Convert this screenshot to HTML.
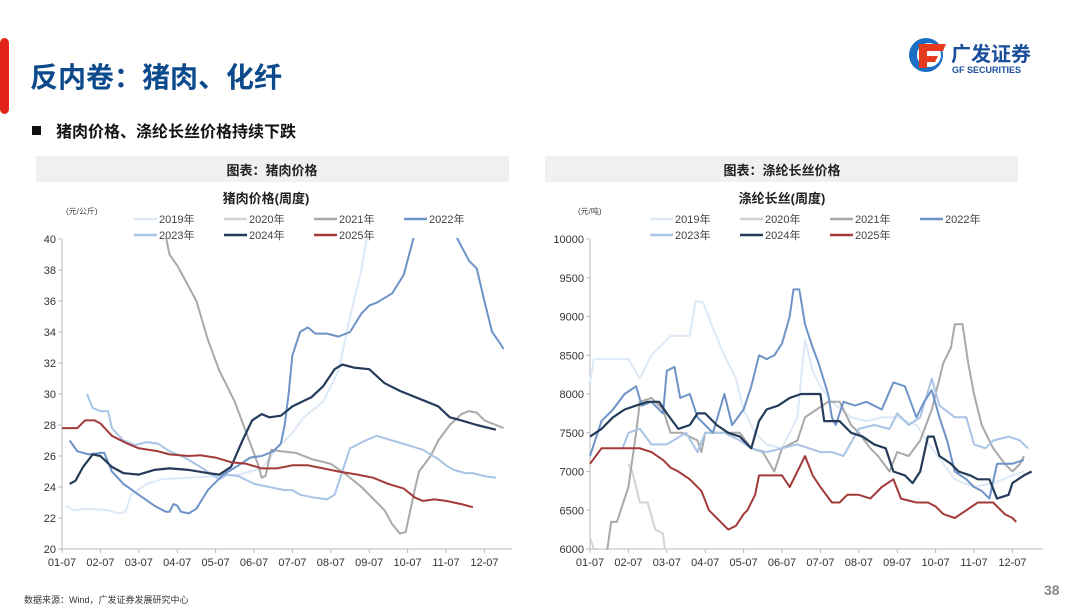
<!DOCTYPE html>
<html><head><meta charset="utf-8">
<style>
body{margin:0;width:1080px;height:608px;background:#fff;overflow:hidden;font-family:"Liberation Sans","Noto Sans CJK SC",sans-serif;}
svg text{font-family:"Liberation Sans","Noto Sans CJK SC",sans-serif;}
</style></head>
<body>
<svg id="s" width="1080" height="608" xmlns="http://www.w3.org/2000/svg">
<rect x="0" y="38" width="9" height="76" rx="5" fill="#e2231a"/>
<text x="30" y="87" font-size="28" font-weight="bold" fill="#0c4a8c">反内卷：猪肉、化纤</text>
<rect x="32" y="126" width="9" height="9" fill="#111"/>
<text x="56" y="137" font-size="16" font-weight="bold" fill="#111">猪肉价格、涤纶长丝价格持续下跌</text>
<!-- logo -->
<circle cx="926" cy="55" r="17" fill="#1b6fc4"/>
<circle cx="929" cy="55" r="12" fill="#fff"/>
<path d="M918 44 h28 l-3 7 h-20 z M922 56 h16 l-3 6 h-14 z M919 44 h8 v24 h-8 z" fill="#e63a1e"/>
<text x="951" y="61" font-size="20" font-weight="bold" fill="#1b4f9c">广发证券</text>
<text x="952" y="73" font-size="9" font-weight="bold" fill="#1b4f9c">GF SECURITIES</text>
<!-- panels -->
<rect x="36" y="156" width="473" height="26" fill="#f0f0f0"/>
<text x="272" y="175" font-size="13" font-weight="bold" text-anchor="middle" fill="#222">图表：猪肉价格</text>
<rect x="545" y="156" width="473" height="26" fill="#f0f0f0"/>
<text x="782" y="175" font-size="13" font-weight="bold" text-anchor="middle" fill="#222">图表：涤纶长丝价格</text>
<text x="266" y="203" font-size="13" font-weight="bold" text-anchor="middle" fill="#222">猪肉价格(周度)</text>
<text x="782" y="203" font-size="13" font-weight="bold" text-anchor="middle" fill="#222">涤纶长丝(周度)</text>
<text x="66" y="214" font-size="8" fill="#444">(元/公斤)</text>
<text x="578" y="214" font-size="8" fill="#444">(元/吨)</text>
<g id="g"></g>
<text x="24" y="603" font-size="9" fill="#333">数据来源：Wind，广发证券发展研究中心</text>
<text x="1044" y="595" font-size="14" font-weight="bold" fill="#888">38</text>
</svg>
<script>
var g=document.getElementById('g'),h='';
var C={y19:'#dde9f7',y20:'#d3d3d3',y21:'#a9a9a9',y22:'#6d93c8',y23:'#a9c4e6',y24:'#253b5a',y25:'#a33a3a'};
function legend(x0){var names=['2019年','2020年','2021年','2022年','2023年','2024年','2025年'];var cs=[C.y19,C.y20,C.y21,C.y22,C.y23,C.y24,C.y25];
for(var i=0;i<7;i++){var x=x0+(i%4)*90,y=i<4?223:239;h+='<line x1="'+x+'" y1="'+(y-4)+'" x2="'+(x+23)+'" y2="'+(y-4)+'" stroke="'+cs[i]+'" stroke-width="2.5"/>';h+='<text x="'+(x+25)+'" y="'+y+'" font-size="11" fill="#444">'+names[i]+'</text>';}}
function axis(x0,xe,vals,vmin,vmax){var top=239,bot=549;
h+='<line x1="'+x0+'" y1="'+top+'" x2="'+x0+'" y2="'+bot+'" stroke="#bbb"/>';
h+='<line x1="'+x0+'" y1="'+bot+'" x2="'+xe+'" y2="'+bot+'" stroke="#bbb"/>';
vals.forEach(function(v){var y=bot-(v-vmin)/(vmax-vmin)*(bot-top);h+='<line x1="'+(x0-4)+'" y1="'+y+'" x2="'+x0+'" y2="'+y+'" stroke="#bbb"/><text x="'+(x0-6)+'" y="'+(y+4)+'" font-size="11" text-anchor="end" fill="#333">'+v+'</text>';});
for(var m=0;m<12;m++){var x=x0+m*38.4;h+='<line x1="'+x+'" y1="'+bot+'" x2="'+x+'" y2="'+(bot+4)+'" stroke="#bbb"/><text x="'+x+'" y="'+(bot+17)+'" font-size="11" text-anchor="middle" fill="#333">'+(m<9?'0':'')+(m+1)+'-07</text>';}}
function line(x0,vmin,vmax,col,w,d){var top=239,bot=549,p=[];for(var i=0;i<d.length;i+=2){p.push((x0+d[i]*38.4).toFixed(1)+','+(bot-(d[i+1]-vmin)/(vmax-vmin)*(bot-top)).toFixed(1));}
h+='<polyline points="'+p.join(' ')+'" fill="none" stroke="'+col+'" stroke-width="'+w+'" stroke-linejoin="round"/>';}
axis(62,512,[20,22,24,26,28,30,32,34,36,38,40],20,40);
axis(590,1043,[6000,6500,7000,7500,8000,8500,9000,9500,10000],6000,10000);
legend(134);legend(650);
var L=62;
h+='<clipPath id="c1"><rect x="55" y="238" width="470" height="320"/></clipPath><g clip-path="url(#c1)">';
line(L,20,40,C.y19,2,[0.1,22.8,0.3,22.5,0.6,22.6,1.2,22.5,1.5,22.3,1.65,22.4,1.8,23.5,2.2,24.2,2.6,24.5,3.3,24.6,4,24.7,4.6,24.8,5.2,25.2,5.6,26.5,6,27.5,6.3,28.5,6.8,29.5,7.2,31.5,7.5,35,7.8,38,7.95,40.3]);
line(L,20,40,C.y21,2,[2.7,40.2,2.8,39,3,38.3,3.5,36,3.8,33.5,4.1,31.5,4.5,29.5,4.8,27.5,5.1,25.5,5.2,24.6,5.3,24.7,5.45,26.4,5.7,26.3,6.1,26.2,6.5,25.8,7,25.5,7.4,24.8,7.8,24,8.2,23,8.4,22.5,8.6,21.6,8.8,21,8.95,21.1,9.2,24,9.3,25,9.6,26,9.8,27,10.1,28,10.4,28.7,10.6,28.9,10.8,28.8,11,28.3,11.3,28,11.5,27.8]);
line(L,20,40,C.y23,2,[0.65,30,0.8,29.1,1,28.9,1.2,28.9,1.3,27.8,1.6,27,1.9,26.7,2.2,26.9,2.5,26.8,2.8,26.3,3.2,25.9,3.6,25.3,4.1,24.5,4.3,24.8,4.6,24.7,5,24.2,5.4,24,5.8,23.8,6,23.8,6.2,23.5,6.6,23.3,6.9,23.2,7.1,23.5,7.3,25,7.5,26.5,7.9,27,8.2,27.3,8.6,27,9,26.7,9.4,26.4,9.8,25.8,10,25.4,10.2,25.1,10.5,24.9,10.7,24.9,11,24.7,11.3,24.6]);
line(L,20,40,C.y22,2,[0.2,27,0.4,26.3,0.7,26.1,1,26.2,1.1,26.2,1.3,25,1.6,24.2,2,23.5,2.4,22.8,2.7,22.4,2.8,22.4,2.9,22.9,3,22.8,3.1,22.4,3.3,22.3,3.5,22.6,3.8,23.8,4.2,24.8,4.6,25.4,4.9,25.9,5.2,26,5.5,26.3,5.7,26.8,5.8,28,5.9,30,6,32.5,6.2,34,6.4,34.3,6.6,33.9,6.9,33.9,7.2,33.7,7.5,34,7.8,35.2,8,35.7,8.2,35.9,8.6,36.5,8.9,37.7,9.2,40.5]);
line(L,20,40,C.y22,2,[10.2,40.5,10.3,40,10.6,38.6,10.8,38.1,11,36,11.2,34,11.4,33.3,11.5,32.9]);
line(L,20,40,C.y24,2.2,[0.2,24.2,0.35,24.4,0.55,25.3,0.8,26.1,1,26,1.3,25.3,1.6,24.9,2,24.8,2.4,25.1,2.8,25.2,3.3,25.1,3.8,24.9,4.1,24.8,4.4,25.3,4.7,27,4.95,28.3,5.2,28.7,5.4,28.5,5.7,28.6,6,29.2,6.5,29.8,6.8,30.5,7.1,31.6,7.3,31.9,7.6,31.7,8,31.6,8.4,30.7,8.8,30.2,9,30,9.4,29.6,9.8,29.2,10.1,28.5,10.4,28.3,10.8,28,11.3,27.7]);
line(L,20,40,C.y25,2,[0,27.8,0.4,27.8,0.6,28.3,0.85,28.3,1,28.1,1.3,27.3,1.7,26.8,2,26.5,2.5,26.3,2.8,26.1,3.3,26,3.6,26.05,4,25.9,4.4,25.6,4.8,25.5,5.2,25.2,5.6,25.2,6,25.4,6.4,25.4,6.8,25.2,7.2,25,7.7,24.8,8.1,24.6,8.5,24.2,8.9,23.9,9.2,23.3,9.4,23.1,9.7,23.2,10,23.1,10.4,22.9,10.7,22.7]);
h+='</g>';
var R=590,a=6000,b=10000;
h+='<clipPath id="c2"><rect x="585" y="238" width="470" height="312"/></clipPath><g clip-path="url(#c2)">';
line(R,a,b,C.y19,2,[0,8150,0.1,8450,1,8450,1.3,8200,1.6,8500,2.1,8750,2.6,8750,2.75,9200,2.95,9180,3.2,8850,3.5,8500,3.8,8200,4,7800,4.3,7500,4.6,7350,5,7300,5.4,7700,5.6,8700,5.8,8300,6,8100,6.3,7900,6.8,7700,7.2,7650,7.6,7700,8,7700,8.5,7600,8.9,7300,9.2,7100,9.5,6900,10,6800,10.5,6850,11,6950,11.3,7000]);
line(R,a,b,C.y20,2,[0,6150,0.1,6000,0.4,5990]);
line(R,a,b,C.y20,2,[1,7100,1.1,7000,1.3,6600,1.5,6600,1.7,6250,1.9,6200,1.95,5990]);
line(R,a,b,C.y21,2,[0.45,5990,0.55,6350,0.7,6350,1,6800,1.2,7500,1.3,7900,1.6,7950,1.9,7800,2.1,7500,2.4,7500,2.8,7400,2.9,7250,3,7500,3.5,7500,3.9,7500,4.2,7300,4.5,7250,4.8,7000,5,7300,5.4,7400,5.6,7700,5.9,7800,6.2,7900,6.5,7900,6.8,7600,7,7500,7.3,7300,7.5,7200,7.8,7000,8,7250,8.3,7200,8.6,7400,8.9,7800,9.2,8400,9.4,8600,9.5,8900,9.7,8900,9.85,8400,10,8000,10.2,7600,10.5,7300,10.8,7100,11,7000,11.2,7100,11.3,7200]);
line(R,a,b,C.y23,2,[0.85,7300,1,7500,1.3,7550,1.6,7350,2,7350,2.5,7500,2.8,7250,3,7500,3.5,7500,3.9,7400,4.2,7300,4.6,7250,5,7300,5.4,7350,6,7250,6.3,7250,6.6,7200,7,7550,7.4,7600,7.8,7550,8,7750,8.3,7600,8.6,7700,8.9,8200,9.1,7850,9.5,7700,9.8,7700,10,7350,10.3,7300,10.5,7400,10.9,7450,11.2,7400,11.4,7300]);
line(R,a,b,C.y22,2,[0,7200,0.3,7650,0.6,7800,0.9,8000,1.2,8100,1.35,7850,1.6,7900,1.9,7750,2,8300,2.2,8350,2.35,7950,2.6,8000,2.8,7700,3.2,7500,3.5,8000,3.7,7600,4,7800,4.2,8100,4.4,8500,4.6,8450,4.8,8500,5,8650,5.2,9000,5.3,9350,5.45,9350,5.6,8900,5.8,8600,5.95,8400,6.2,8000,6.3,7700,6.4,7600,6.6,7900,6.9,7850,7.2,7900,7.6,7800,7.9,8150,8.2,8100,8.5,7700,8.7,7900,8.9,8050,9.1,7700,9.3,7400,9.5,7000,9.8,6900,10,6800,10.2,6750,10.4,6650,10.6,7100,11,7100,11.3,7150]);
line(R,a,b,C.y24,2.2,[0,7450,0.3,7550,0.6,7700,0.9,7800,1.2,7850,1.5,7900,1.8,7900,2,7750,2.3,7550,2.6,7600,2.8,7750,3,7750,3.3,7600,3.6,7500,3.9,7450,4.2,7300,4.4,7650,4.6,7800,4.9,7850,5.2,7950,5.5,8000,6,8000,6.1,7650,6.5,7650,6.8,7500,7.1,7450,7.4,7350,7.7,7300,7.9,7000,8.2,6950,8.4,6850,8.6,7000,8.8,7450,8.95,7450,9.1,7200,9.4,7100,9.6,7000,9.9,6950,10.1,6900,10.4,6900,10.6,6650,10.9,6700,11,6850,11.3,6950,11.5,7000]);
line(R,a,b,C.y25,2,[0,7100,0.3,7300,1,7300,1.3,7300,1.6,7250,1.9,7150,2.1,7050,2.3,7000,2.6,6900,2.9,6750,3.1,6500,3.4,6350,3.6,6250,3.8,6300,4,6450,4.1,6500,4.3,6700,4.4,6950,4.7,6950,5,6950,5.2,6800,5.5,7100,5.6,7200,5.8,6950,6,6800,6.3,6600,6.5,6600,6.7,6700,7,6700,7.3,6650,7.6,6800,7.9,6900,8.1,6650,8.5,6600,8.8,6600,9,6550,9.2,6450,9.5,6400,9.8,6500,10.1,6600,10.5,6600,10.8,6450,11,6400,11.1,6350]);
h+='</g>';
g.innerHTML=h;
</script>
</body></html>
